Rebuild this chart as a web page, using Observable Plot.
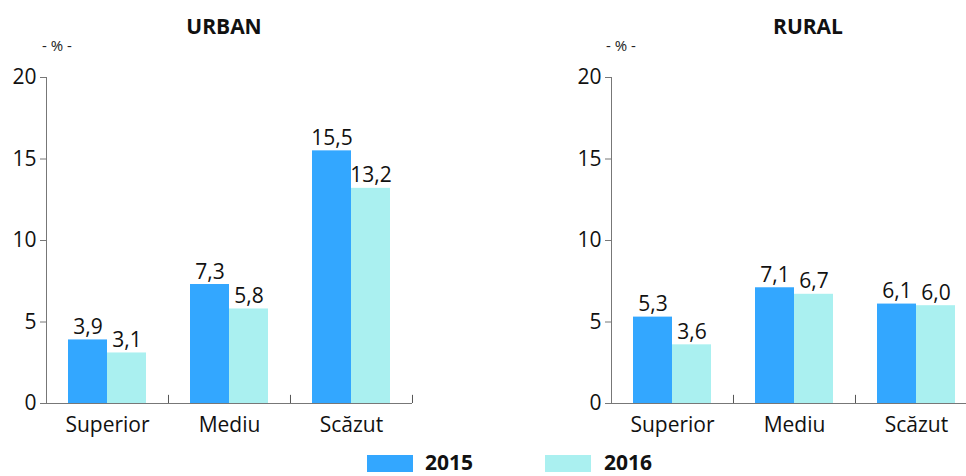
<!DOCTYPE html>
<html>
<head>
<meta charset="utf-8">
<script src="https://cdn.jsdelivr.net/npm/d3@7"></script>
<script src="https://cdn.jsdelivr.net/npm/@observablehq/plot@0.6"></script>
<style>
  html, body { margin: 0; padding: 0; background: #fff; overflow: hidden; }
  #wrap { position: relative; width: 966px; height: 476px; font-family: "Open Sans", sans-serif; color: #111; }
  .panel { position: absolute; top: 0; }
  .title { position: absolute; font-weight: bold; font-size: 21px; transform: translateX(-50%); top: 12px; white-space: nowrap; }
  .unit { position: absolute; font-size: 15px; line-height: 18px; transform: translateX(-50%); top: 36px; color: #222; white-space: nowrap; }
  .sw { position: absolute; width: 46px; height: 17px; top: 455px; }
  .lg { position: absolute; font-weight: bold; font-size: 21px; top: 448px; line-height: 28px; }
</style>
</head>
<body>
<div id="wrap"></div>
<script>
const categories = ["Superior", "Mediu", "Scăzut"];
const years = ["2015", "2016"];
const urban2015 = [3.9, 7.3, 15.5];
const urban2016 = [3.1, 5.8, 13.2];
const rural2015 = [5.3, 7.1, 6.1];
const rural2016 = [3.6, 6.7, 6.0];
const yTicks = [0, 5, 10, 15, 20];
const colors = ["#33A7FF", "#AAF0F0"];
const panelTitles = ["URBAN", "RURAL"];

const fmt = v => d3.format(".1f")(v).replace(".", ",");
const outer = 0.564;

function makePanel(v2015, v2016) {
  const data = categories.flatMap((c, i) => [
    {cat: c, year: years[0], v: v2015[i]},
    {cat: c, year: years[1], v: v2016[i]}
  ]);
  return Plot.plot({
    width: 483, height: 440,
    marginLeft: 46, marginRight: 71, marginTop: 77, marginBottom: 37,
    style: {fontFamily: "Open Sans", fontSize: "21px", color: "#111", background: "transparent", overflow: "visible"},
    fx: {domain: categories, padding: 0, axis: null},
    x: {domain: years, axis: null, paddingInner: 0, paddingOuter: outer},
    y: {domain: [0, 20], axis: null},
    color: {domain: years, range: colors},
    marks: [
      Plot.barY(data, {fx: "cat", x: "year", y: "v", fill: "year"}),
      Plot.frame({anchor: "left", facetAnchor: "left", stroke: "#777"}),
      Plot.ruleY([0], {stroke: "#777"}),
      Plot.ruleX([years[1]], {x: d => d, y1: 0, y2: 0.5, stroke: "#555", dx: 39 / 2 + 39 * outer}),
      Plot.axisY({ticks: yTicks, tickSize: 6, tickPadding: 4, stroke: "#777", fill: "#111", fontSize: 21, label: null, tickFormat: d => String(d)}),
      Plot.axisFx({anchor: "bottom", tickSize: 0, tickPadding: 14, label: null, fontSize: 21, fill: "#111"}),
      Plot.text(data, {fx: "cat", x: "year", y: "v", text: d => fmt(d.v), dy: -6, lineAnchor: "bottom", fontSize: 21, fill: "#111"})
    ]
  });
}

const wrap = document.getElementById("wrap");
const p1 = makePanel(urban2015, urban2016);
p1.classList.add("panel"); p1.style.left = "0px";
const p2 = makePanel(rural2015, rural2016);
p2.classList.add("panel"); p2.style.left = "565px";
wrap.appendChild(p1); wrap.appendChild(p2);

function addDiv(cls, text, styles) {
  const d = document.createElement("div");
  d.className = cls; d.textContent = text;
  Object.assign(d.style, styles);
  wrap.appendChild(d);
}
addDiv("title", panelTitles[0], {left: "224px"});
addDiv("title", panelTitles[1], {left: "808px"});
addDiv("unit", "- % -", {left: "57px"});
addDiv("unit", "- % -", {left: "621px"});
addDiv("sw", "", {left: "367px", background: colors[0]});
addDiv("lg", years[0], {left: "425px"});
addDiv("sw", "", {left: "545px", background: colors[1]});
addDiv("lg", years[1], {left: "604px"});
</script>
</body>
</html>
